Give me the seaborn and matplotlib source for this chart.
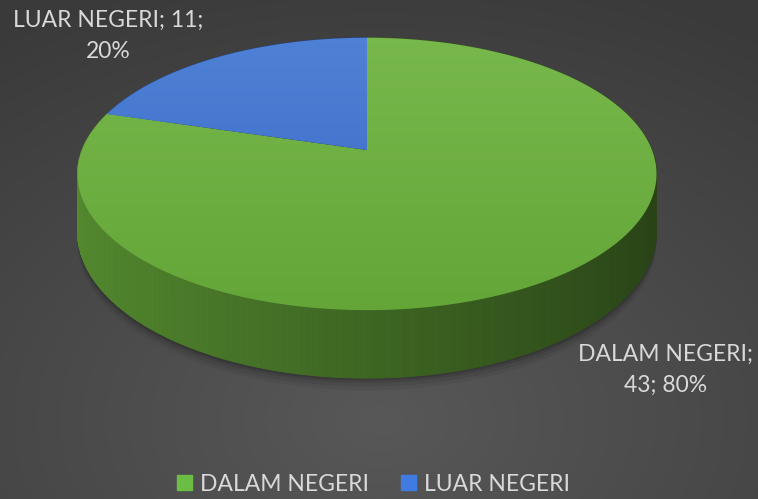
import numpy as np
import seaborn as sns
import matplotlib
matplotlib.use("Agg")
import matplotlib.pyplot as plt
from matplotlib.patches import Patch, Polygon

# data
labels = ["DALAM NEGERI", "LUAR NEGERI"]
counts = [43, 11]
top_colors = [("#78b84c", "#64a538"), ("#4f82d6", "#3766c4")]
legend_colors = ["#6cbd45", "#3f7be0"]

sns.set_theme(style="dark")
plt.rcParams["font.family"] = ["Lato", "DejaVu Sans"]

# pie geometry (screen pixels) with simple perspective
CX, CY = 367, 150
R, S, K = 285, 132, 0.176
DEPTH = 56


def project(theta, drop=0.0):
    u, v = np.cos(theta), np.sin(theta)
    den = 1 + K * v
    return CX + R * u / den, CY - S * v / den + drop / den


fig = plt.figure(figsize=(7.58, 4.99), dpi=100)
ax = fig.add_axes([0, 0, 1, 1])
ax.set_xlim(0, 758)
ax.set_ylim(499, 0)
ax.axis("off")

# background radial gradient
yy, xx = np.mgrid[0:499, 0:758]
d = np.sqrt(((xx - 380) / 760) ** 2 + ((yy - 420) / 520) ** 2)
bg = np.clip(0.345 - 0.13 * d, 0.23, 0.36)
ax.imshow(np.dstack([bg, bg, bg * 1.01]), extent=(0, 758, 499, 0), zorder=0, aspect="auto")

total = sum(counts)
fracs = np.array(counts) / total
pcts = np.round(fracs * 100).astype(int)
bounds = 90 - 360 * np.concatenate([[0], np.cumsum(fracs)])

# soft shadow under the pie
t = np.linspace(0, 2 * np.pi, 400)
for off, a in [(10, 0.05), (7, 0.07), (4, 0.09), (2, 0.12)]:
    bx, by = project(t, DEPTH + off)
    ax.fill(bx, by, color="black", alpha=a, lw=0, zorder=1)

# side wall, far quads first
steps = np.linspace(0, 2 * np.pi, 361)
quads = []
for a0, a1 in zip(steps[:-1], steps[1:]):
    mid = (a0 + a1) / 2
    deg = np.degrees(mid) % 360
    idx = 0
    for i in range(len(counts)):
        hi, lo = bounds[i] % 360, bounds[i + 1] % 360
        inside = (lo <= deg <= hi) if lo < hi else (deg >= lo or deg <= hi)
        if inside:
            idx = i
    quads.append((np.sin(mid), a0, a1, idx))
quads.sort(key=lambda q: -q[0])
for _, a0, a1, idx in quads:
    mid = (a0 + a1) / 2
    f = 0.62 - 0.22 * np.cos(mid)
    base = np.array(matplotlib.colors.to_rgb(top_colors[idx][1]))
    col = np.clip(base * f, 0, 1)
    tx, ty = project(np.array([a0, a1]))
    bx, by = project(np.array([a1, a0]), DEPTH)
    ax.fill(np.r_[tx, bx], np.r_[ty, by], color=col, lw=0.6, ec=col, zorder=2)

# top face slices with vertical gradient
grad = np.linspace(0, 1, 256).reshape(-1, 1)
for i in range(len(counts)):
    th = np.radians(np.linspace(bounds[i], bounds[i + 1], 200))
    px, py = project(th)
    px = np.r_[CX, px]
    py = np.r_[CY, py]
    poly = Polygon(np.c_[px, py], closed=True, fc="none", ec="none", zorder=3)
    ax.add_patch(poly)
    cmap = sns.blend_palette(list(top_colors[i]), as_cmap=True)
    im = ax.imshow(grad, cmap=cmap, extent=(60, 680, 320, 30), aspect="auto", zorder=3)
    im.set_clip_path(poly)

# data labels
txt_kw = dict(color="#d9d9d9", fontsize=16.5, ha="center", va="center",
              linespacing=1.6, zorder=5)
ax.text(666, 370, f"{labels[0]};\n{counts[0]}; {pcts[0]}%", **txt_kw)
ax.text(108, 36, f"{labels[1]}; {counts[1]};\n{pcts[1]}%", **txt_kw)

handles = [Patch(color=c) for c in legend_colors]
fig.legend(handles, labels, loc="center", bbox_to_anchor=(0.493, 0.03), ncol=2,
           frameon=False, fontsize=16.5, labelcolor="#d9d9d9", handlelength=0.65,
           handleheight=0.65, handletextpad=0.35, columnspacing=1.4)

fig.savefig("out.png", dpi=100)
